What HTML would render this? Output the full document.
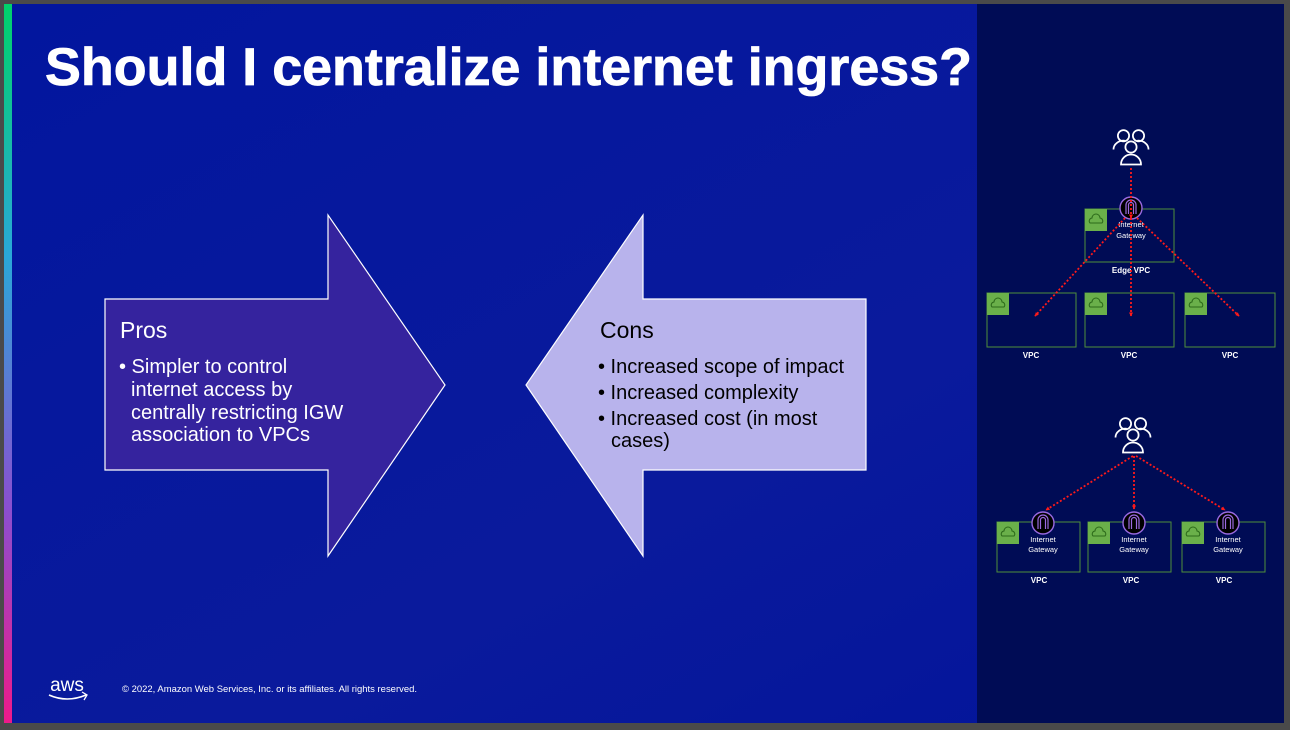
<!DOCTYPE html>
<html><head><meta charset="utf-8"><style>
html,body{margin:0;padding:0;background:#4a4a4a;}
svg{display:block;font-family:"Liberation Sans",sans-serif;}
</style></head><body>
<svg width="1290" height="730" viewBox="0 0 1290 730" xmlns="http://www.w3.org/2000/svg">
<defs>
<linearGradient id="bar" x1="0" y1="0" x2="0" y2="1">
<stop offset="0" stop-color="#00d26a"/><stop offset="0.35" stop-color="#2aa8d8"/><stop offset="0.7" stop-color="#8a4fd0"/><stop offset="1" stop-color="#ee1a8a"/>
</linearGradient>
<linearGradient id="bg" x1="0" y1="0" x2="1" y2="1">
<stop offset="0" stop-color="#02169e"/><stop offset="0.6" stop-color="#0a1a9c"/><stop offset="1" stop-color="#02149a"/>
</linearGradient>
<marker id="ah" markerWidth="4" markerHeight="4" refX="3.5" refY="2" orient="auto" markerUnits="userSpaceOnUse" viewBox="0 0 4 4"><path d="M0,0 L4,2 L0,4z" fill="#ff1a1a"/></marker>
<g id="ppl" fill="none" stroke="#fff" stroke-width="1.4">
<circle cx="-6" cy="-9" r="4.5"/><circle cx="6" cy="-9" r="4.5"/>
<path d="M-14,2 a8,7 0 0 1 9,-7"/><path d="M14,2 a8,7 0 0 0 -9,-7"/>
<circle cx="0" cy="0" r="4.5" fill="#000c55"/><path d="M-8,14 a8,8 0 0 1 16,0 z" fill="#000c55"/>
</g>
<g id="cld"><rect x="0" y="0" width="22" height="22" fill="#6ab04a"/><path d="M5,14 a3,3 0 0 1 2,-5 a4,4 0 0 1 8,0 a3,3 0 0 1 2,5z" fill="none" stroke="#2c6a1a" stroke-width="1"/></g>
<g id="igw"><circle r="11" fill="#000" stroke="#9a6ae0" stroke-width="1.4"/><path d="M-5,6 V-3 a5,5 0 0 1 10,0 V6 M-2.5,6 V-3 a2.5,2.5 0 0 1 5,0 V6" fill="none" stroke="#9a6ae0" stroke-width="1.2"/></g>
</defs>
<rect x="0" y="0" width="1290" height="730" fill="#4a4a4a"/>
<rect x="4" y="4" width="1280" height="719" fill="url(#bg)"/>
<rect x="4" y="4" width="8" height="719" fill="url(#bar)"/>
<rect x="977" y="4" width="307" height="719" fill="#000c55"/>
<text x="45" y="85" font-size="53" font-weight="bold" fill="#fff" stroke="#fff" stroke-width="0.8" textLength="927" lengthAdjust="spacingAndGlyphs">Should I centralize internet ingress?</text>

<path d="M105,299 H328 V215 L445,385 L328,556 V470 H105 Z" fill="#35239e" stroke="#fff" stroke-width="1.2"/>
<text x="120" y="338" font-size="23" fill="#fff">Pros</text>
<g font-size="20" fill="#fff">
<text x="119" y="373">• Simpler to control</text>
<text x="131" y="396">internet access by</text>
<text x="131" y="419">centrally restricting IGW</text>
<text x="131" y="441">association to VPCs</text>
</g>
<path d="M866,299 H643 V215 L526,385 L643,556 V470 H866 Z" fill="#b8b3ec" stroke="#fff" stroke-width="1.2"/>
<text x="600" y="338" font-size="23" fill="#000">Cons</text>
<g font-size="20" fill="#000">
<text x="598" y="373">• Increased scope of impact</text>
<text x="598" y="399">• Increased complexity</text>
<text x="598" y="425">• Increased cost (in most</text>
<text x="611" y="447">cases)</text>
</g>

<!-- top diagram -->
<use href="#ppl" transform="translate(1131,147) scale(1.25)"/>
<rect x="1085" y="209" width="89" height="53" fill="none" stroke="#4f8f3a" stroke-width="1"/>
<use href="#cld" x="1085" y="209"/>
<text x="1131" y="273" font-size="8" font-weight="bold" fill="#fff" text-anchor="middle">Edge VPC</text>
<g fill="none" stroke="#4f8f3a" stroke-width="1">
<rect x="987" y="293" width="89" height="54"/><rect x="1085" y="293" width="89" height="54"/><rect x="1185" y="293" width="90" height="54"/>
</g>
<use href="#cld" x="987" y="293"/><use href="#cld" x="1085" y="293"/><use href="#cld" x="1185" y="293"/>
<g font-size="8" font-weight="bold" fill="#fff" text-anchor="middle">
<text x="1031" y="358">VPC</text><text x="1129" y="358">VPC</text><text x="1230" y="358">VPC</text>
</g>
<use href="#igw" x="1131" y="208"/>
<text x="1131" y="227" font-size="7.5" fill="#fff" text-anchor="middle">Internet</text>
<text x="1131" y="238" font-size="7.5" fill="#fff" text-anchor="middle">Gateway</text>
<g stroke="#ff1a1a" stroke-width="1.8" stroke-dasharray="2,2" fill="none" marker-end="url(#ah)">
<line x1="1131" y1="168" x2="1131" y2="218"/>
<line x1="1125" y1="218" x2="1035" y2="316"/>
<line x1="1131" y1="218" x2="1131" y2="316"/>
<line x1="1137" y1="218" x2="1239" y2="316"/>
</g>

<!-- bottom diagram -->
<use href="#ppl" transform="translate(1133,435) scale(1.25)"/>
<g fill="none" stroke="#4f8f3a" stroke-width="1">
<rect x="997" y="522" width="83" height="50"/><rect x="1088" y="522" width="83" height="50"/><rect x="1182" y="522" width="83" height="50"/>
</g>
<use href="#cld" x="997" y="522"/><use href="#cld" x="1088" y="522"/><use href="#cld" x="1182" y="522"/>
<g stroke="#ff1a1a" stroke-width="1.8" stroke-dasharray="2,2" fill="none" marker-end="url(#ah)">
<line x1="1133" y1="456" x2="1046" y2="510"/>
<line x1="1134" y1="456" x2="1134" y2="509"/>
<line x1="1136" y1="456" x2="1225" y2="510"/>
</g>
<use href="#igw" x="1043" y="523"/><use href="#igw" x="1134" y="523"/><use href="#igw" x="1228" y="523"/>
<g font-size="7.5" fill="#fff" text-anchor="middle">
<text x="1043" y="542">Internet</text><text x="1043" y="552">Gateway</text>
<text x="1134" y="542">Internet</text><text x="1134" y="552">Gateway</text>
<text x="1228" y="542">Internet</text><text x="1228" y="552">Gateway</text>
</g>
<g font-size="8" font-weight="bold" fill="#fff" text-anchor="middle">
<text x="1039" y="583">VPC</text><text x="1131" y="583">VPC</text><text x="1224" y="583">VPC</text>
</g>

<!-- footer -->
<text x="67" y="691" font-size="19" fill="#fff" text-anchor="middle">aws</text>
<path d="M49,695 Q67,703 86,695" fill="none" stroke="#fff" stroke-width="1.6"/>
<path d="M82,692 L87,695 L84,700" fill="none" stroke="#fff" stroke-width="1.3"/>
<text x="122" y="692" font-size="9.5" fill="#fff" textLength="295" lengthAdjust="spacingAndGlyphs">© 2022, Amazon Web Services, Inc. or its affiliates. All rights reserved.</text>
</svg>
</body></html>
